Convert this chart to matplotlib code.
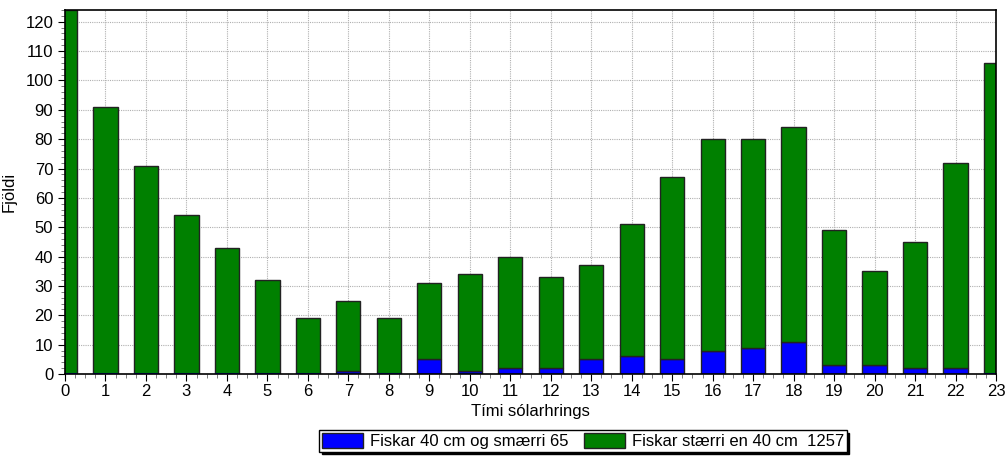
import matplotlib
matplotlib.use("Agg")
import matplotlib.pyplot as plt
from matplotlib.ticker import MultipleLocator
import numpy as np

plt.rcParams['font.family'] = ['Liberation Sans', 'DejaVu Sans']

hours = list(range(24))
small = [0, 0, 0, 0, 0, 0, 0, 1, 0, 5, 1, 2, 2, 5, 6, 5, 8, 9, 11, 3, 3, 2, 2, 0]
large = [124, 91, 71, 54, 43, 32, 19, 24, 19, 26, 33, 38, 31, 32, 45, 62, 72, 71, 73, 46, 32, 43, 70, 106]
label_small = "Fiskar 40 cm og smærri 65"
label_large = "Fiskar stærri en 40 cm  1257"

fig = plt.figure(figsize=(10.07, 4.58), dpi=100)
ax = fig.add_axes([65/1007, 1 - 374/458, (996-65)/1007, (374-10)/458])

x = np.array(hours)
ax.bar(x, small, width=0.6, color='#0000FF', edgecolor='#222222', linewidth=1.0,
       label=label_small, zorder=3)
ax.bar(x, large, width=0.6, bottom=small, color='#008000', edgecolor='#222222',
       linewidth=1.0, label=label_large, zorder=3)
# zero-height blue bars show as a blue line
for xi, s in zip(x, small):
    if s == 0:
        ax.plot([xi - 0.3, xi + 0.3], [0, 0], color='#0000FF', lw=1.5, zorder=4,
                solid_capstyle='butt')

ax.set_xlim(0, 23)
ax.set_ylim(0, 124)
ax.xaxis.set_major_locator(MultipleLocator(1))
ax.xaxis.set_minor_locator(MultipleLocator(0.25))
ax.yaxis.set_major_locator(MultipleLocator(10))
ax.yaxis.set_minor_locator(MultipleLocator(2))
ax.grid(True, which='major', color='#b0b0b0', linestyle=(0, (1, 1)), linewidth=0.8, zorder=0)
ax.tick_params(axis='both', which='major', labelsize=12, direction='out', length=5, width=0.8)
ax.tick_params(axis='both', which='minor', direction='out', length=3, width=0.6, color='#666666')
ax.tick_params(axis='x', pad=2)
for sp in ax.spines.values():
    sp.set_linewidth(1.2)
    sp.set_zorder(5)

ax.set_xlabel("Tími sólarhrings", fontsize=12, labelpad=4)
ax.set_ylabel("Fjöldi", fontsize=12, labelpad=6)

leg = fig.legend(loc='center', bbox_to_anchor=(583/1007, 1 - 441/458), ncol=2,
                 fontsize=12, frameon=True, fancybox=False,
                 shadow={'ox': 2, 'oy': -2, 'color': 'black', 'alpha': 1.0},
                 handlelength=2.5, handleheight=1.0, borderpad=0.15,
                 columnspacing=0.9, handletextpad=0.4, borderaxespad=0)
leg.get_frame().set_edgecolor('black')
leg.get_frame().set_linewidth(1.0)

fig.savefig("out.png", dpi=100)
